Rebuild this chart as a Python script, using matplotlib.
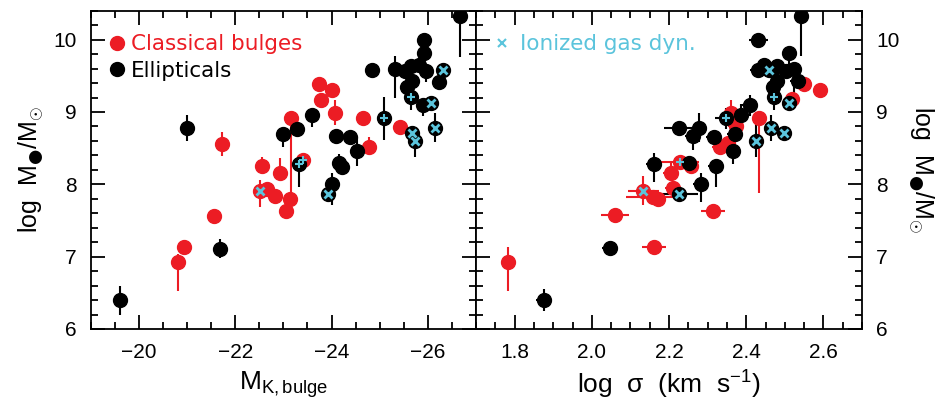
import matplotlib
matplotlib.use("Agg")
import matplotlib.pyplot as plt
from matplotlib.lines import Line2D
from matplotlib.ticker import MultipleLocator

plt.rcParams["font.family"] = ["Liberation Sans", "DejaVu Sans"]
plt.rcParams["mathtext.fontset"] = "custom"
plt.rcParams["mathtext.rm"] = "Liberation Sans"
plt.rcParams["mathtext.it"] = "Liberation Sans:italic"
plt.rcParams["mathtext.bf"] = "Liberation Sans:bold"
plt.rcParams["mathtext.sf"] = "DejaVu Sans"

RED = "#ec1c24"
BLACK = "#000000"
CYAN = "#5bc4dc"

# ---- left panel: M_K,bulge vs log M_BH ----
red_mk = [-20.81, -20.94, -21.56, -21.73, -22.56, -22.52, -22.67, -22.83, -22.94, -23.13,
          -23.06, -23.15, -23.40, -23.75, -23.79, -24.02, -24.08, -24.65, -24.77, -25.42]
red_m_l = [6.93, 7.13, 7.56, 8.56, 8.26, 7.91, 7.94, 7.84, 8.16, 7.80,
           7.63, 8.91, 8.33, 9.39, 9.17, 9.31, 8.99, 8.92, 8.51, 8.79]
red_lo_l = [0.40, 0.08, 0.05, 0.17, 0.12, 0.23, 0.08, 0.08, 0.05, 0.08,
            0.05, 1.10, 0.10, 0.05, 0.05, 0.05, 0.17, 0.05, 0.05, 0.05]
red_hi_l = [0.10, 0.08, 0.05, 0.17, 0.12, 0.15, 0.08, 0.08, 0.20, 0.08,
            0.05, 0.05, 0.10, 0.05, 0.05, 0.05, 0.17, 0.05, 0.15, 0.05]
red_ion_l = [5]
red_dot_l = [12]

ell_mk = [-19.60, -21.00, -21.69, -23.33, -23.00, -23.29, -23.60, -23.92, -24.02, -24.15,
          -24.21, -24.10, -24.38, -24.52, -24.85, -25.31, -25.08, -25.52, -25.65, -25.81,
          -25.96, -25.92, -25.92, -25.67, -25.56, -25.65, -25.90, -26.06, -26.31, -26.23,
          -26.15, -25.67, -25.73, -26.67]
ell_m_l = [6.40, 8.78, 7.11, 8.28, 8.69, 8.77, 8.96, 7.87, 8.01, 8.30,
           8.24, 8.67, 8.65, 8.46, 9.58, 9.60, 8.91, 9.57, 9.63, 9.65,
           9.56, 9.99, 9.81, 9.43, 9.34, 9.21, 9.09, 9.12, 9.58, 9.41,
           8.78, 8.71, 8.60, 10.33]
ell_lo_l = [0.20, 0.18, 0.13, 0.32, 0.17, 0.05, 0.17, 0.08, 0.29, 0.05,
            0.08, 0.08, 0.05, 0.20, 0.05, 0.40, 0.30, 0.05, 0.05, 0.05,
            0.14, 0.05, 0.05, 0.05, 0.05, 0.18, 0.15, 0.05, 0.05, 0.05,
            0.20, 0.15, 0.22, 0.57]
ell_hi_l = [0.20, 0.18, 0.13, 0.13, 0.05, 0.05, 0.05, 0.08, 0.15, 0.12,
            0.08, 0.08, 0.05, 0.20, 0.05, 0.17, 0.30, 0.05, 0.05, 0.05,
            0.05, 0.10, 0.05, 0.05, 0.05, 0.18, 0.05, 0.05, 0.05, 0.05,
            0.20, 0.10, 0.10, 0.30]
ell_ion_l = [7, 27, 28, 30, 31, 32]
ell_dot_l = [3, 16, 25]

# ---- right panel: log sigma vs log M_BH ----
red_sig = [1.782, 2.060, 2.161, 2.133, 2.158, 2.171, 2.205, 2.210, 2.229, 2.257,
           2.314, 2.332, 2.353, 2.361, 2.374, 2.434, 2.519, 2.551, 2.592]
red_m_r = [6.93, 7.58, 7.14, 7.91, 7.83, 7.80, 8.16, 7.95, 8.31, 8.26,
           7.63, 8.52, 8.57, 8.99, 8.80, 8.92, 9.18, 9.39, 9.31]
red_lo_r = [0.40, 0.05, 0.05, 0.20, 0.05, 0.05, 0.05, 0.05, 0.08, 0.05,
            0.05, 0.05, 0.05, 0.05, 0.05, 1.04, 0.05, 0.05, 0.05]
red_hi_r = [0.20, 0.05, 0.05, 0.20, 0.05, 0.05, 0.15, 0.05, 0.08, 0.05,
            0.05, 0.05, 0.05, 0.18, 0.05, 0.05, 0.05, 0.05, 0.05]
red_xe_r = [0.00, 0.037, 0.030, 0.040, 0.070, 0.02, 0.02, 0.02, 0.050, 0.02,
            0.030, 0.02, 0.02, 0.02, 0.02, 0.02, 0.02, 0.02, 0.02]
red_ion_r = [3]
red_dot_r = [8]

ell_sig = [1.875, 2.047, 2.161, 2.252, 2.226, 2.283, 2.322, 2.366, 2.226, 2.278,
           2.262, 2.317, 2.348, 2.371, 2.387, 2.410, 2.426, 2.465, 2.499, 2.512,
           2.473, 2.470, 2.481, 2.533, 2.431, 2.460, 2.445, 2.481, 2.504, 2.525,
           2.512, 2.431, 2.543]
ell_m_r = [6.40, 7.12, 8.28, 8.30, 7.87, 8.01, 8.26, 8.46, 8.78, 8.78,
           8.67, 8.66, 8.91, 8.69, 8.96, 9.09, 8.60, 8.78, 8.71, 9.12,
           9.21, 9.34, 9.43, 9.43, 9.58, 9.58, 9.65, 9.63, 9.57, 9.60,
           9.81, 9.99, 10.32]
ell_lo_r = [0.15, 0.10, 0.25, 0.05, 0.05, 0.25, 0.30, 0.18, 0.05, 0.20,
            0.20, 0.05, 0.15, 0.05, 0.15, 0.15, 0.22, 0.18, 0.05, 0.05,
            0.18, 0.05, 0.05, 0.05, 0.05, 0.05, 0.05, 0.05, 0.05, 0.40,
            0.30, 0.10, 0.55]
ell_hi_r = [0.15, 0.10, 0.15, 0.05, 0.05, 0.15, 0.05, 0.18, 0.05, 0.20,
            0.05, 0.05, 0.15, 0.05, 0.15, 0.15, 0.26, 0.18, 0.05, 0.05,
            0.18, 0.05, 0.05, 0.05, 0.05, 0.05, 0.05, 0.05, 0.05, 0.05,
            0.05, 0.10, 0.30]
ell_xe_r = [0.02, 0.02, 0.02, 0.02, 0.050, 0.02, 0.02, 0.02, 0.040, 0.02,
            0.02, 0.02, 0.030, 0.02, 0.02, 0.02, 0.02, 0.02, 0.02, 0.02,
            0.02, 0.02, 0.02, 0.02, 0.02, 0.02, 0.02, 0.02, 0.02, 0.02,
            0.02, 0.025, 0.02]
ell_ion_r = [4, 16, 17, 18, 19, 25]
ell_dot_r = [12, 20]


def draw(ax, x, y, lo, hi, color, ion, dot, xerr=None):
    ax.errorbar(x, y, yerr=[lo, hi], xerr=xerr, fmt="o", ms=10,
                mfc=color, mec=color, ecolor=color, elinewidth=1.5,
                capsize=0, zorder=2, clip_on=True)
    ax.plot([x[i] for i in ion], [y[i] for i in ion], "x", color=CYAN,
            ms=6, mew=2, zorder=3)
    ax.plot([x[i] for i in dot], [y[i] for i in dot], "+", color=CYAN,
            ms=6, mew=1.5, zorder=3)


fig = plt.figure(figsize=(9.48, 4.07), dpi=100)
W, H = 948.0, 407.0
x0, x1, x2 = 90.7, 476.0, 862.0
yb, yt = 329.0, 10.7
ax1 = fig.add_axes([x0 / W, 1 - yb / H, (x1 - x0) / W, (yb - yt) / H])
ax2 = fig.add_axes([x1 / W, 1 - yb / H, (x2 - x1) / W, (yb - yt) / H])

draw(ax1, red_mk, red_m_l, red_lo_l, red_hi_l, RED, red_ion_l, red_dot_l)
draw(ax1, ell_mk, ell_m_l, ell_lo_l, ell_hi_l, BLACK, ell_ion_l, ell_dot_l)
draw(ax2, red_sig, red_m_r, red_lo_r, red_hi_r, RED, red_ion_r, red_dot_r, red_xe_r)
draw(ax2, ell_sig, ell_m_r, ell_lo_r, ell_hi_r, BLACK, ell_ion_r, ell_dot_r, ell_xe_r)

ax1.set_xlim(-19, -27)
ax2.set_xlim(1.7, 2.7)
for ax in (ax1, ax2):
    ax.set_ylim(6, 10.4)
    ax.yaxis.set_major_locator(MultipleLocator(1))
    ax.yaxis.set_minor_locator(MultipleLocator(0.2))
    ax.tick_params(which="both", direction="in", top=True, bottom=True,
                   left=True, right=True, width=1.3, labelsize=15, pad=10)
    ax.tick_params(which="major", length=10)
    ax.tick_params(which="minor", length=5)
    for s in ax.spines.values():
        s.set_linewidth(1.3)

ax1.xaxis.set_major_locator(MultipleLocator(2))
ax1.xaxis.set_minor_locator(MultipleLocator(0.5))
ax1.set_xticks([-20, -22, -24, -26])
ax2.xaxis.set_major_locator(MultipleLocator(0.2))
ax2.xaxis.set_minor_locator(MultipleLocator(0.05))
ax2.set_xticks([1.8, 2.0, 2.2, 2.4, 2.6])
ax2.set_xticklabels(["1.8", "2.0", "2.2", "2.4", "2.6"])
ax2.tick_params(labelleft=False, labelright=True)

ylab = r"log  M$_{\mathsf{●}}$/M$_{\odot}$"
ax1.set_ylabel(ylab, fontsize=18, labelpad=6)
ax2.yaxis.set_label_position("right")
ax2.set_ylabel(ylab, fontsize=18, rotation=270, labelpad=26)
ax1.set_xlabel(r"M$_{\rm K,bulge}$", fontsize=19, labelpad=5)
ax2.set_xlabel(r"log  σ  (km  s$^{-1}$)", fontsize=19, labelpad=5)

h1 = [Line2D([], [], ls="none", marker="o", ms=10, color=RED),
      Line2D([], [], ls="none", marker="o", ms=10, color=BLACK)]
leg1 = ax1.legend(h1, ["Classical bulges", "Ellipticals"], loc="upper left",
                  bbox_to_anchor=(-0.023, 1.0),
                  frameon=False, handletextpad=0.1, handlelength=1.1,
                  borderaxespad=0.7, labelspacing=0.3,
                  prop={"family": "DejaVu Sans", "size": 15.5})
for t, c in zip(leg1.get_texts(), [RED, BLACK]):
    t.set_color(c)

h2 = [Line2D([], [], ls="none", marker="x", ms=6, mew=1.5, color=CYAN)]
leg2 = ax2.legend(h2, ["Ionized gas dyn."], loc="upper left",
                  bbox_to_anchor=(-0.021, 1.0), frameon=False,
                  handletextpad=0.3, handlelength=1.0, borderaxespad=0.7,
                  prop={"family": "DejaVu Sans", "size": 15.5})
leg2.get_texts()[0].set_color(CYAN)

fig.savefig("out.png", dpi=100)
